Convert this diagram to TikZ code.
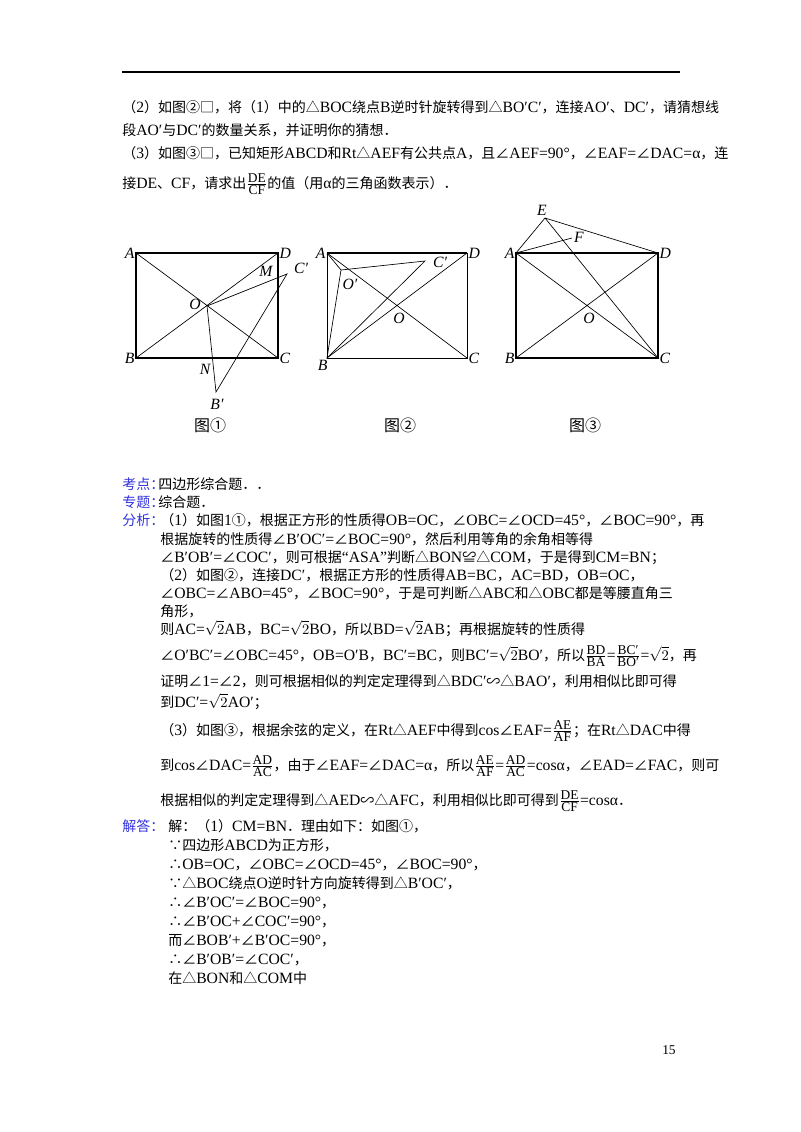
\documentclass[tikz,border=0pt]{standalone}
\usepackage{amsmath}
\usepackage{fontspec}
\setmainfont{Liberation Serif}[Scale=1.12]
\newfontfamily\cjk{Noto Sans CJK SC}
\XeTeXinterchartokenstate=1
\newXeTeXintercharclass\CJKcls
\newcount\cc
\def\setrange#1#2{\cc=#1 \loop\XeTeXcharclass\cc=\CJKcls \ifnum\cc<#2 \advance\cc 1 \repeat}
\setrange{"2460}{"24FF}
\setrange{"25A0}{"25FF}
\setrange{"3000}{"303F}
\setrange{"4E00}{"9FFF}
\setrange{"FF00}{"FFEF}
\setrange{"2220}{"2220}
\setrange{"2234}{"2235}
\setrange{"223D}{"223D}
\setrange{"224C}{"224C}
\XeTeXinterchartoks 0 \CJKcls = {\begingroup\cjk}
\XeTeXinterchartoks 4095 \CJKcls = {\begingroup\cjk}
\XeTeXinterchartoks \CJKcls 0 = {\endgroup}
\XeTeXinterchartoks \CJKcls 4095 = {\endgroup}
\newcommand{\fr}[2]{${\textstyle\frac{\mbox{\small #1}}{\mbox{\small #2}}}$}
\newcommand{\rt}{$\sqrt{2}$}
\definecolor{lab}{RGB}{50,50,220}
\begin{document}
\begin{tikzpicture}[x=0.75pt,y=-0.75pt,
  tx/.style={anchor=base west,inner sep=0pt,font=\fontsize{10.5}{12}\selectfont},
  lb/.style={tx,text=lab},
  pt/.style={font=\fontsize{10.5}{12}\selectfont\itshape,inner sep=1pt},
  rect/.style={line width=1pt},
  thin/.style={line width=0.5pt},
  figcap/.style={font=\fontsize{12}{14}\selectfont}]
\useasboundingbox (0,0) rectangle (800,1132);
\draw[line width=0.8pt] (122,72) -- (680,72);
% problem text
\node[tx] (p1) at (122,112) {（2）如图②□，将（1）中的△BOC绕点B逆时针旋转得到△BO′C′，连接AO′、DC′，请猜想线};
\node[tx] (p2) at (122,135) {段AO′与DC′的数量关系，并证明你的猜想．};
\node[tx] (p3) at (122,158) {（3）如图③□，已知矩形ABCD和Rt△AEF有公共点A，且∠AEF=90°，∠EAF=∠DAC=α，连};
\node[tx] (p4) at (122,188) {接DE、CF，请求出\fr{DE}{CF}的值（用α的三角函数表示）．};
% figure 1
\coordinate (A1) at (136,253); \coordinate (D1) at (278,253);
\coordinate (B1) at (136,358); \coordinate (C1) at (278,358);
\coordinate (O1) at (207,306); \coordinate (Cp1) at (287,274);
\coordinate (Bp1) at (216,392);
\draw[rect] (A1) -- (D1) -- (C1) -- (B1) -- cycle;
\draw[thin] (A1) -- (C1) (B1) -- (D1);
\draw[thin] (O1) -- (Cp1) -- (Bp1) -- cycle;
\node[pt,anchor=east] (lA1) at (A1) {A};
\node[pt,anchor=west] (lD1) at (D1) {D};
\node[pt,anchor=east] (lB1) at (B1) {B};
\node[pt,anchor=west] (lC1) at (C1) {C};
\node[pt] (lO1) at (195,304) {O};
\node[pt] (lM1) at (266,271) {M};
\node[pt] (lN1) at (205,369) {N};
\node[pt] (lCp1) at (301,268) {C′};
\node[pt] (lBp1) at (217,404) {B′};
\node[figcap] (c1) at (210,425) {图①};
% figure 2
\coordinate (A2) at (327,253); \coordinate (D2) at (467,253);
\coordinate (B2) at (327,358); \coordinate (C2) at (467,358);
\coordinate (Op2) at (341,270); \coordinate (Cp2) at (425,261);
\draw[rect] (A2) -- (D2);
\draw[thin] (D2) -- (C2) -- (B2) -- (A2);
\draw[thin] (A2) -- (C2) (B2) -- (D2);
\draw[thin] (A2) -- (Op2) -- (Cp2) -- (B2) -- (Op2);
\node[pt,anchor=east] (lA2) at (A2) {A};
\node[pt,anchor=west] (lD2) at (D2) {D};
\node[pt,anchor=east] (lB2) at (329,365) {B};
\node[pt,anchor=west] (lC2) at (C2) {C};
\node[pt] (lO2) at (399,318) {O};
\node[pt] (lOp2) at (350,284) {O′};
\node[pt] (lCp2) at (440,262) {C′};
\node[figcap] (c2) at (400,425) {图②};
% figure 3
\coordinate (A3) at (516,253); \coordinate (D3) at (658,253);
\coordinate (B3) at (516,358); \coordinate (C3) at (658,358);
\coordinate (E3) at (545,218); \coordinate (F3) at (572,238);
\draw[rect] (A3) -- (D3) -- (C3) -- (B3) -- cycle;
\draw[thin] (A3) -- (C3) (B3) -- (D3);
\draw[thin] (A3) -- (E3) -- (D3) (A3) -- (F3) (E3) -- (C3);
\node[pt,anchor=east] (lA3) at (A3) {A};
\node[pt,anchor=west] (lD3) at (D3) {D};
\node[pt,anchor=east] (lB3) at (B3) {B};
\node[pt,anchor=west] (lC3) at (C3) {C};
\node[pt] (lO3) at (589,318) {O};
\node[pt] (lE3) at (542,210) {E};
\node[pt] (lF3) at (579,237) {F};
\node[figcap] (c3) at (585,425) {图③};
% analysis
\node[lb] (k1) at (122,489) {考点：};
\node[tx] (k2) at (158,489) {四边形综合题．．};
\node[lb] (z1) at (122,507) {专题：};
\node[tx] (z2) at (158,507) {综合题．};
\node[lb] (f0) at (122,525) {分析：};
\node[tx] (f1) at (160,525) {（1）如图1①，根据正方形的性质得OB=OC，∠OBC=∠OCD=45°，∠BOC=90°，再};
\node[tx] (f2) at (160,544) {根据旋转的性质得∠B′OC′=∠BOC=90°，然后利用等角的余角相等得};
\node[tx] (f3) at (160,562) {∠B′OB′=∠COC′，则可根据“ASA”判断△BON≌△COM，于是得到CM=BN；};
\node[tx] (f4) at (160,580) {（2）如图②，连接DC′，根据正方形的性质得AB=BC，AC=BD，OB=OC，};
\node[tx] (f5) at (160,598) {∠OBC=∠ABO=45°，∠BOC=90°，于是可判断△ABC和△OBC都是等腰直角三};
\node[tx] (f6) at (160,616) {角形，};
\node[tx] (f7) at (160,634) {则AC=\rt AB，BC=\rt BO，所以BD=\rt AB；再根据旋转的性质得};
\node[tx] (f8) at (160,660) {∠O′BC′=∠OBC=45°，OB=O′B，BC′=BC，则BC′=\rt BO′，所以\fr{BD}{BA}=\fr{BC′}{BO′}=\rt，再};
\node[tx] (f9) at (160,686) {证明∠1=∠2，则可根据相似的判定定理得到△BDC′∽△BAO′，利用相似比即可得};
\node[tx] (f10) at (160,707) {到DC′=\rt AO′；};
\node[tx] (f11) at (160,735) {（3）如图③，根据余弦的定义，在Rt△AEF中得到cos∠EAF=\fr{AE}{AF}；在Rt△DAC中得};
\node[tx] (f12) at (160,770) {到cos∠DAC=\fr{AD}{AC}，由于∠EAF=∠DAC=α，所以\fr{AE}{AF}=\fr{AD}{AC}=cosα，∠EAD=∠FAC，则可};
\node[tx] (f13) at (160,805) {根据相似的判定定理得到△AED∽△AFC，利用相似比即可得到\fr{DE}{CF}=cosα．};
% answer
\node[lb] (j0) at (122,831) {解答：};
\node[tx] (j1) at (168,831) {解：（1）CM=BN．理由如下：如图①，};
\node[tx] (j2) at (168,850) {∵四边形ABCD为正方形，};
\node[tx] (j3) at (168,869) {∴OB=OC，∠OBC=∠OCD=45°，∠BOC=90°，};
\node[tx] (j4) at (168,888) {∵△BOC绕点O逆时针方向旋转得到△B′OC′，};
\node[tx] (j5) at (168,907) {∴∠B′OC′=∠BOC=90°，};
\node[tx] (j6) at (168,926) {∴∠B′OC+∠COC′=90°，};
\node[tx] (j7) at (168,945) {而∠BOB′+∠B′OC=90°，};
\node[tx] (j8) at (168,964) {∴∠B′OB′=∠COC′，};
\node[tx] (j9) at (168,983) {在△BON和△COM中};
\node[tx,font=\fontsize{9}{10}\selectfont] (pg) at (662,1054) {15};
\end{tikzpicture}
\end{document}
